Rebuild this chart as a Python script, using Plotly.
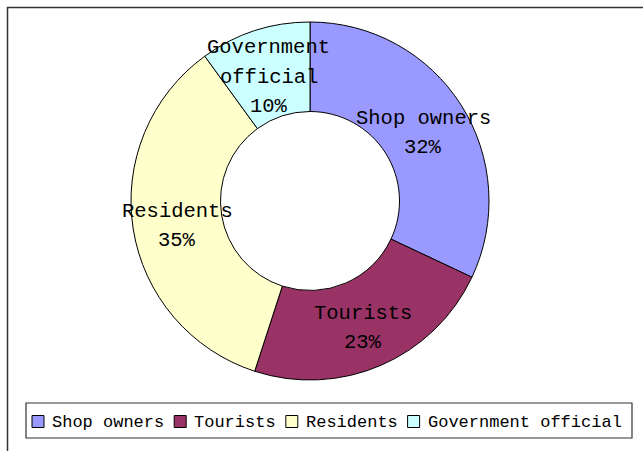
import math
import plotly.graph_objects as go

labels = ["Shop owners", "Tourists", "Residents", "Government official"]
values = [32, 23, 35, 10]
colors = ["#9999FF", "#993366", "#FFFFCC", "#CCFFFF"]
label_lines = [["Shop owners"], ["Tourists"], ["Residents"], ["Government", "official"]]

W, H = 643, 451
cx, cy, R = 310, 201, 179
FONT = "Liberation Mono"
LABEL_SIZE = 20.5
LEG_SIZE = 17

fig = go.Figure(go.Pie(
    labels=labels, values=values, sort=False, direction="clockwise", rotation=0,
    hole=0.5, textinfo="none", hoverinfo="label+percent",
    marker=dict(colors=colors, line=dict(color="#000000", width=1)),
    domain=dict(x=[(cx - R) / W, (cx + R) / W], y=[1 - (cy + R) / H, 1 - (cy - R) / H]),
    showlegend=False,
))

total = sum(values)
cum = 0
annotations = []
line_h = 29.5
text_dy = 4
for lines, v in zip(label_lines, values):
    mid = (cum + v / 2) / total
    cum += v
    th = 2 * math.pi * mid
    r = 0.75 * R
    px = cx + r * math.sin(th)
    py = cy - r * math.cos(th) + text_dy
    all_lines = lines + [f"{round(v / total * 100)}%"]
    n = len(all_lines)
    for i, t in enumerate(all_lines):
        ly = py + (i - (n - 1) / 2) * line_h
        annotations.append(dict(
            x=px / W, y=1 - ly / H, xref="paper", yref="paper",
            text=t, showarrow=False, xanchor="center", yanchor="middle",
            font=dict(family=FONT, size=LABEL_SIZE, color="#000000"),
        ))

shapes = [dict(type="rect", xref="paper", yref="paper",
               x0=7.5 / W, x1=1.2, y0=-0.2, y1=1 - 7.5 / H,
               line=dict(color="#333333", width=1.5))]

# custom legend row
leg_x0, leg_x1, leg_y0, leg_y1 = 26, 632, 403, 438
leg_cy = (leg_y0 + leg_y1) / 2
shapes.append(dict(type="rect", xref="paper", yref="paper",
                   x0=leg_x0 / W, x1=leg_x1 / W, y0=1 - leg_y1 / H, y1=1 - leg_y0 / H,
                   line=dict(color="#333333", width=1.2), fillcolor="white", layer="above"))
char_w = 0.6 * LEG_SIZE
sq = 12
xcur = 32
for lab, col in zip(labels, colors):
    shapes.append(dict(type="rect", xref="paper", yref="paper",
                       x0=xcur / W, x1=(xcur + sq) / W,
                       y0=1 - (leg_cy + 1 + sq / 2) / H, y1=1 - (leg_cy + 1 - sq / 2) / H,
                       line=dict(color="#000000", width=1), fillcolor=col, layer="above"))
    tx = xcur + sq + 6
    annotations.append(dict(
        x=tx / W, y=1 - (leg_cy + 2) / H, xref="paper", yref="paper", text=lab,
        showarrow=False, xanchor="left", yanchor="middle",
        font=dict(family=FONT, size=LEG_SIZE, color="#000000"),
    ))
    xcur = tx + len(lab) * char_w + 12

fig.update_layout(
    width=W, height=H, margin=dict(l=0, r=0, t=0, b=0),
    paper_bgcolor="white", plot_bgcolor="white",
    annotations=annotations, shapes=shapes, showlegend=False,
)

fig.write_html("out.html")
